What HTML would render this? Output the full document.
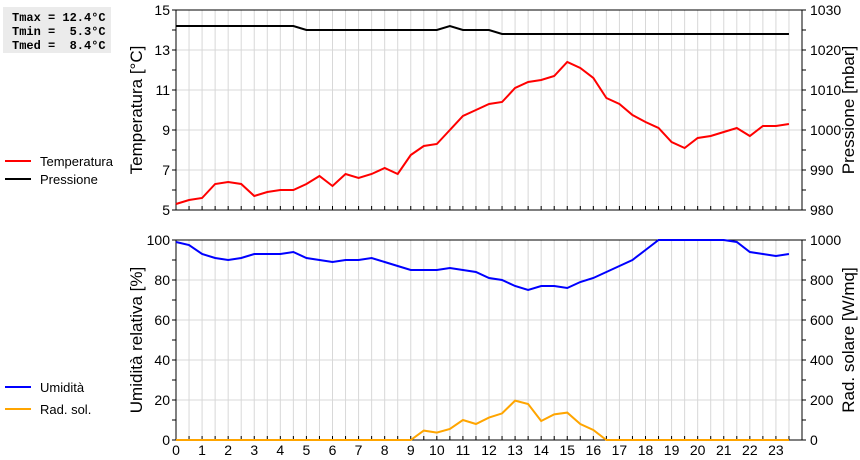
<!DOCTYPE html>
<html><head><meta charset="utf-8"><style>
body{margin:0;background:#fff;width:860px;height:460px;overflow:hidden}
svg{display:block;font-family:"Liberation Sans",sans-serif}
</style></head><body>
<svg id="c" width="860" height="460" viewBox="0 0 860 460">
<rect x="3" y="7" width="108" height="46" fill="#ebebeb"/>
<g font-family="Liberation Mono, monospace" font-weight="bold" font-size="12" fill="#000">
<text x="12" y="21" xml:space="preserve">Tmax = 12.4°C</text>
<text x="12" y="35" xml:space="preserve">Tmin =  5.3°C</text>
<text x="12" y="49" xml:space="preserve">Tmed =  8.4°C</text>
</g>
<g font-size="13">
<line x1="5" y1="161" x2="31" y2="161" stroke="#f00" stroke-width="2"/><text x="40" y="166">Temperatura</text>
<line x1="5" y1="179" x2="31" y2="179" stroke="#000" stroke-width="2"/><text x="40" y="184">Pressione</text>
</g>
<g font-size="13">
<line x1="5" y1="387" x2="31" y2="387" stroke="#00f" stroke-width="2"/><text x="40" y="392">Umidità</text>
<line x1="5" y1="409" x2="31" y2="409" stroke="#ffa500" stroke-width="2"/><text x="40" y="414">Rad. sol.</text>
</g>
<g id="g"></g>
</svg>
<script>
const hours=[0,0.5,1,1.5,2,2.5,3,3.5,4,4.5,5,5.5,6,6.5,7,7.5,8,8.5,9,9.5,10,10.5,11,11.5,12,12.5,13,13.5,14,14.5,15,15.5,16,16.5,17,17.5,18,18.5,19,19.5,20,20.5,21,21.5,22,22.5,23,23.5];
const temp=[5.3,5.5,5.6,6.3,6.4,6.3,5.7,5.9,6.0,6.0,6.3,6.7,6.2,6.8,6.6,6.8,7.1,6.8,7.75,8.2,8.3,9.0,9.7,10.0,10.3,10.4,11.1,11.4,11.5,11.7,12.4,12.1,11.6,10.6,10.3,9.75,9.4,9.1,8.4,8.1,8.6,8.7,8.9,9.1,8.7,9.2,9.2,9.3];
const pres=[1026,1026,1026,1026,1026,1026,1026,1026,1026,1026,1025,1025,1025,1025,1025,1025,1025,1025,1025,1025,1025,1026,1025,1025,1025,1024,1024,1024,1024,1024,1024,1024,1024,1024,1024,1024,1024,1024,1024,1024,1024,1024,1024,1024,1024,1024,1024,1024];
const hum=[99,97.5,93,91,90,91,93,93,93,94,91,90,89,90,90,91,89,87,85,85,85,86,85,84,81,80,77,75,77,77,76,79,81,84,87,90,95,100,100,100,100,100,100,99,94,93,92,93];
const rad=[0,0,0,0,0,0,0,0,0,0,0,0,0,0,0,0,0,0,0,47,37,55,100,80,112,133,197,180,95,128,137,80,50,0,0,0,0,0,0,0,0,0,0,0,0,0,0,0];
const xTicks=[0,1,2,3,4,5,6,7,8,9,10,11,12,13,14,15,16,17,18,19,20,21,22,23];
const tTicks=[5,7,9,11,13,15];
const pTicks=[980,990,1000,1010,1020,1030];
const hTicks=[0,20,40,60,80,100];
const rTicks=[0,200,400,600,800,1000];
const NS="http://www.w3.org/2000/svg";
const g=document.getElementById('g');
const L=176,R=802;
const X=h=>L+(R-L)*h/24;
function el(t,a,parent){const e=document.createElementNS(NS,t);for(const k in a)e.setAttribute(k,a[k]);(parent||g).appendChild(e);return e;}
function panel(top,bot,lt,lmin,lmax,rt,rmin,rmax,ltitle,rtitle,name){
  const pg=el('g',{});
  
  
  const Yl=v=>bot-(bot-top)*(v-lmin)/(lmax-lmin);
  const Yr=v=>bot-(bot-top)*(v-rmin)/(rmax-rmin);
  for(let h=0.5;h<24;h+=0.5){el('line',{x1:X(h),x2:X(h),y1:top,y2:bot,stroke:'#d8d8d8'},pg);}
  for(let i=1;i<lt.length-1;i++){el('line',{x1:L,x2:R,y1:Yl(lt[i]),y2:Yl(lt[i]),stroke:'#d8d8d8'},pg);}
  el('rect',{x:L,y:top,width:R-L,height:bot-top,fill:'none',stroke:'#000'},pg);
  for(let h=0.5;h<24;h+=0.5){el('line',{x1:X(h),x2:X(h),y1:bot,y2:bot-4,stroke:'#000'},pg);}
  const st=(lmax-lmin)/(lt.length-1)/2;
  for(let v=lmin;v<=lmax+1e-9;v+=st){const y=Yl(v);el('line',{x1:L-4,x2:L,y1:y,y2:y,stroke:'#000'},pg);el('line',{x1:R,x2:R+4,y1:y,y2:y,stroke:'#000'},pg);}
  lt.forEach(v=>{const t=el('text',{x:L-6,y:Yl(v)+5,'text-anchor':'end','font-size':14},pg);t.textContent=v;});
  rt.forEach(v=>{const t=el('text',{x:R+8,y:Yr(v)+5,'font-size':14},pg);t.textContent=v;});
  const a=el('text',{transform:`translate(142,${(top+bot)/2}) rotate(-90)`,'text-anchor':'middle','font-size':17},pg);a.textContent=ltitle;
  const b=el('text',{transform:`translate(854,${(top+bot)/2}) rotate(-90)`,'text-anchor':'middle','font-size':17},pg);b.textContent=rtitle;
  return {Yl,Yr,pg};
}
function line(vals,Y,color,name,parent){
  const p=el('polyline',{points:vals.map((v,i)=>X(hours[i])+','+Y(v)).join(' '),fill:'none',stroke:color,'stroke-width':2},parent);
  
  
}
const p1=panel(10,210,tTicks,5,15,pTicks,980,1030,'Temperatura [°C]','Pressione [mbar]','top');
line(pres,p1.Yr,'#000','pressure-line',p1.pg);
line(temp,p1.Yl,'#f00','temperature-line',p1.pg);
const p2=panel(240,440,hTicks,0,100,rTicks,0,1000,'Umidità relativa [%]','Rad. solare [W/mq]','bottom');
line(rad,p2.Yr,'#ffa500','radiation-line',p2.pg);
line(hum,p2.Yl,'#00f','humidity-line',p2.pg);
xTicks.forEach(h=>{const t=el('text',{x:X(h),y:455,'text-anchor':'middle','font-size':14});t.textContent=h;

});
</script>
</body></html>
